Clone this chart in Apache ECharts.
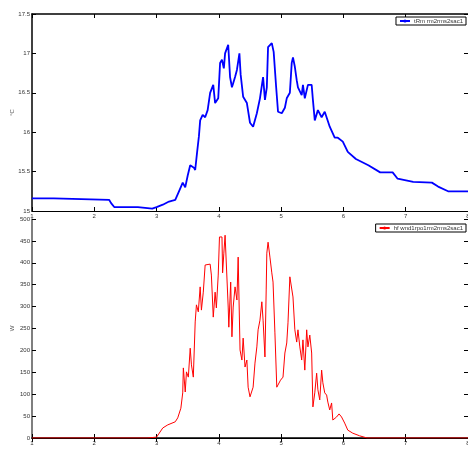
<!DOCTYPE html>
<html>
<head>
<meta charset="utf-8">
<script src="https://cdn.jsdelivr.net/npm/echarts@6/dist/echarts.min.js"></script>
<style>
  html, body { margin: 0; padding: 0; background: #fff; }
  #chart { width: 468px; height: 453px; }
</style>
</head>
<body>
<div id="chart"></div>
<script>
// x ticks shared by both panels
const xTicks = [1, 2, 3, 4, 5, 6, 7, 8]

// upper panel: temperature (°C)
const tempName = 'tRm rm2rms2sac1'
const tempX = [1.00, 1.35, 1.38, 2.24, 2.27, 2.32, 2.70, 2.73, 2.93, 3.00, 3.10, 3.20, 3.30, 3.36, 3.42, 3.46, 3.50, 3.54, 3.60, 3.62,
  3.65, 3.68, 3.70, 3.74, 3.78, 3.82, 3.86, 3.91, 3.94, 3.99, 4.02, 4.05, 4.08, 4.10, 4.15, 4.18, 4.21, 4.23, 4.26, 4.29,
  4.33, 4.35, 4.39, 4.45, 4.50, 4.55, 4.61, 4.66, 4.71, 4.74, 4.77, 4.79, 4.85, 4.88, 4.92, 4.95, 5.01, 5.06, 5.09, 5.14,
  5.17, 5.19, 5.22, 5.25, 5.27, 5.33, 5.35, 5.38, 5.43, 5.49, 5.51, 5.54, 5.59, 5.65, 5.70, 5.78, 5.86, 5.91, 5.99, 6.07,
  6.20, 6.40, 6.59, 6.79, 6.87, 7.12, 7.42, 7.52, 7.68, 8.00]
const tempY = [15.16, 15.16, 15.14, 15.14, 15.10, 15.05, 15.05, 15.03, 15.03, 15.05, 15.08, 15.12, 15.14, 15.25, 15.36, 15.30, 15.45, 15.58, 15.55, 15.52,
  15.74, 15.95, 16.15, 16.22, 16.19, 16.28, 16.50, 16.60, 16.37, 16.43, 16.88, 16.92, 16.81, 17.00, 17.11, 16.70, 16.57, 16.62, 16.70, 16.79,
  17.00, 16.73, 16.45, 16.37, 16.12, 16.07, 16.24, 16.43, 16.70, 16.41, 16.57, 17.08, 17.13, 17.02, 16.57, 16.26, 16.24, 16.31, 16.43, 16.50,
  16.88, 16.95, 16.83, 16.66, 16.57, 16.47, 16.60, 16.43, 16.60, 16.60, 16.41, 16.15, 16.28, 16.19, 16.26, 16.07, 15.93, 15.93, 15.88, 15.75,
  15.66, 15.58, 15.49, 15.49, 15.41, 15.37, 15.36, 15.31, 15.25, 15.25]

// lower panel: power (W)
const powerName = 'hf wnd1rpo1rm2rms2sac1'
const powerX = [1.00, 2.85, 3.00, 3.10, 3.18, 3.30, 3.34, 3.39, 3.42, 3.43, 3.46, 3.48, 3.51, 3.54, 3.56, 3.59, 3.62, 3.64, 3.67, 3.70,
  3.72, 3.75, 3.78, 3.86, 3.88, 3.91, 3.94, 3.96, 3.99, 4.01, 4.05, 4.06, 4.08, 4.10, 4.13, 4.15, 4.16, 4.19, 4.21, 4.23,
  4.26, 4.29, 4.31, 4.34, 4.37, 4.39, 4.42, 4.45, 4.47, 4.50, 4.55, 4.58, 4.61, 4.63, 4.66, 4.69, 4.71, 4.74, 4.76, 4.77,
  4.79, 4.82, 4.85, 4.87, 4.90, 4.93, 4.95, 4.99, 5.03, 5.06, 5.09, 5.11, 5.14, 5.17, 5.19, 5.22, 5.25, 5.27, 5.30, 5.33,
  5.35, 5.38, 5.41, 5.43, 5.46, 5.49, 5.51, 5.54, 5.57, 5.59, 5.62, 5.65, 5.67, 5.70, 5.73, 5.75, 5.78, 5.81, 5.83, 5.89,
  5.93, 5.97, 6.02, 6.07, 6.15, 6.26, 6.38, 8.00]
const powerY = [0, 0, 2, 23, 30, 37, 46, 68, 103, 160, 105, 151, 139, 205, 167, 139, 265, 304, 288, 345,
  292, 333, 395, 397, 372, 276, 333, 297, 372, 459, 459, 377, 422, 463, 463, 299, 253, 356, 231, 299,
  345, 315, 413, 201, 178, 228, 162, 178, 116, 94, 116, 171, 208, 247, 269, 311, 269, 185, 338, 422,
  447, 413, 377, 356, 240, 116, 114, 132, 139, 194, 217, 263, 368, 365, 322, 247, 219, 247, 208, 178,
  224, 155, 247, 208, 235, 194, 71, 103, 148, 110, 87, 155, 126, 103, 98, 82, 64, 80, 41, 48,
  55, 48, 34, 18, 11, 5, 0, 0]

const zip = (xs, ys) => xs.map((x, i) => [x, ys[i]])

const font = 'Liberation Sans, Arial, sans-serif'
const labelStyle = { color: '#333', fontSize: 6, fontFamily: font, margin: 2 }

// MATLAB style box: ticks inside on all four sides
function xAxes(grid, showLabels) {
  return [
    {
      type: 'value', gridIndex: grid, min: 1, max: 8, interval: 1, position: 'bottom',
      axisLine: { lineStyle: { color: '#000', width: 1 } },
      axisTick: { inside: true, length: 4, lineStyle: { color: '#000' } },
      axisLabel: Object.assign({ show: showLabels, formatter: v => xTicks.includes(v) ? String(v) : '' }, labelStyle),
      splitLine: { show: false },
    },
    {
      type: 'value', gridIndex: grid, min: 1, max: 8, interval: 1, position: 'top',
      axisLine: { lineStyle: { color: '#000', width: 1.5 } },
      axisTick: { inside: true, length: 4, lineStyle: { color: '#000' } },
      axisLabel: { show: false },
      splitLine: { show: false },
    },
  ]
}

function yAxes(grid, min, max, interval, name, lineColor) {
  return [
    {
      type: 'value', gridIndex: grid, min: min, max: max, interval: interval, position: 'left',
      name: name, nameLocation: 'middle', nameGap: 17, nameRotate: 90, nameMoveOverlap: false,
      nameTextStyle: { color: '#555', fontSize: 6, fontFamily: font },
      axisLine: { show: true, lineStyle: { color: lineColor, width: 1.5 } },
      axisTick: { show: true, inside: true, length: 4, lineStyle: { color: '#000' } },
      axisLabel: labelStyle,
      splitLine: { show: false },
    },
    {
      type: 'value', gridIndex: grid, min: min, max: max, interval: interval, position: 'right',
      axisLine: { show: true, lineStyle: { color: '#000', width: 1 } },
      axisTick: { show: true, inside: true, length: 4, lineStyle: { color: '#000' } },
      axisLabel: { show: false },
      splitLine: { show: false },
    },
  ]
}

const chart = echarts.init(document.getElementById('chart'), null, { renderer: 'canvas' })

chart.setOption({
  animation: false,
  backgroundColor: '#fff',
  grid: [
    { left: 32, top: 14, width: 436, height: 197, outerBoundsMode: 'none', containLabel: false },
    { left: 32, top: 219, width: 436, height: 219, outerBoundsMode: 'none', containLabel: false },
  ],
  xAxis: [...xAxes(0, true), ...xAxes(1, true)],
  yAxis: [...yAxes(0, 15, 17.5, 0.5, '°C', '#000'), ...yAxes(1, 0, 500, 50, 'W', '#555')],
  legend: [
    {
      data: [tempName], right: 2, top: 17,
      orient: 'vertical', padding: [1, 3], itemWidth: 10, itemHeight: 4, itemGap: 0,
      borderColor: '#000', borderWidth: 1, backgroundColor: '#fff',
      textStyle: { fontSize: 6, color: '#333', fontFamily: font, padding: [0, 0, 0, -1] },
    },
    {
      data: [powerName], right: 2, top: 224,
      orient: 'vertical', padding: [1, 3], itemWidth: 10, itemHeight: 4, itemGap: 0,
      borderColor: '#000', borderWidth: 1, backgroundColor: '#fff',
      textStyle: { fontSize: 6, color: '#333', fontFamily: font, padding: [0, 0, 0, -1] },
    },
  ],
  series: [
    {
      name: tempName, type: 'line', xAxisIndex: 0, yAxisIndex: 0,
      data: zip(tempX, tempY),
      showSymbol: false, symbol: 'none',
      lineStyle: { color: '#0000ff', width: 1.8 },
      itemStyle: { color: '#0000ff' },
    },
    {
      name: powerName, type: 'line', xAxisIndex: 2, yAxisIndex: 2,
      data: zip(powerX, powerY),
      showSymbol: false, symbol: 'none',
      lineStyle: { color: '#ff0000', width: 1 },
      itemStyle: { color: '#ff0000' },
    },
  ],
})
</script>
</body>
</html>
